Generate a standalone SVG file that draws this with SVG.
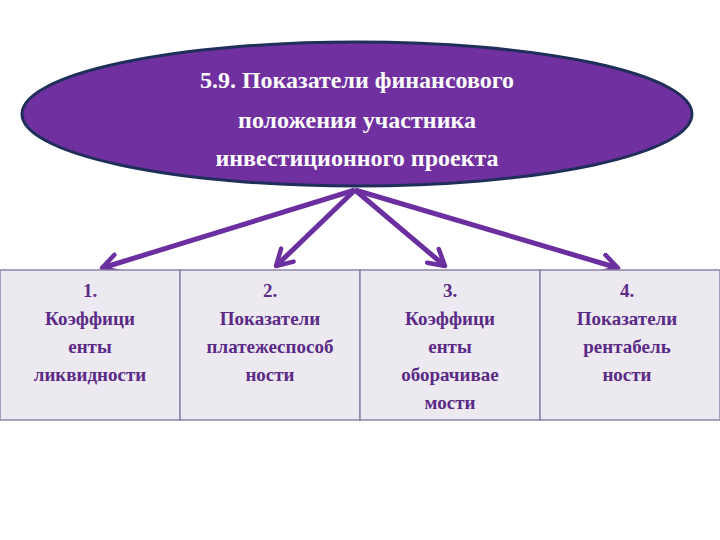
<svg xmlns="http://www.w3.org/2000/svg" width="720" height="540" viewBox="0 0 720 540">
<defs>
<marker id="ah" viewBox="0 0 10 10" refX="8" refY="5" markerWidth="4.5" markerHeight="4.5" orient="auto" markerUnits="strokeWidth">
<path d="M1,1 L8,5 L1,9" fill="none" stroke="#6b2fa0" stroke-width="2" stroke-linecap="round" stroke-linejoin="round"/>
</marker>
</defs>
<style>
.box{fill:#ece9f1;stroke:#8a84a8;stroke-width:1.5}
.bt{font-family:"Liberation Serif",serif;font-weight:bold;font-size:19px;fill:#5b2a86;text-anchor:middle}
.ht{font-family:"Liberation Serif",serif;font-weight:bold;font-size:24px;fill:#fff;text-anchor:middle}
.c{stroke:#6b2fa0;stroke-width:5;fill:none;marker-end:url(#ah)}
</style>
<rect width="720" height="540" fill="#fff"/>
<g id="head">
<ellipse cx="357" cy="114" rx="335" ry="72" fill="#7030a0" stroke="#1f2f5a" stroke-width="3"/>
<text class="ht" x="357" y="88">5.9. Показатели финансового</text>
<text class="ht" x="357" y="128">положения участника</text>
<text class="ht" x="357" y="166">инвестиционного проекта</text>
</g>
<g id="connectors">
<line class="c" x1="355" y1="190" x2="102" y2="268"/>
<line class="c" x1="355" y1="190" x2="276" y2="266"/>
<line class="c" x1="355" y1="190" x2="445" y2="266"/>
<line class="c" x1="355" y1="190" x2="618" y2="268"/>
</g>
<g id="n1"><rect class="box" x="0" y="270" width="180" height="150"/>
<text class="bt" x="90" y="297">1.</text><text class="bt" x="90" y="325">Коэффици</text><text class="bt" x="90" y="353">енты</text><text class="bt" x="90" y="381">ликвидности</text></g>
<g id="n2"><rect class="box" x="180" y="270" width="180" height="150"/>
<text class="bt" x="270" y="297">2.</text><text class="bt" x="270" y="325">Показатели</text><text class="bt" x="270" y="353">платежеспособ</text><text class="bt" x="270" y="381">ности</text></g>
<g id="n3"><rect class="box" x="360" y="270" width="180" height="150"/>
<text class="bt" x="450" y="297">3.</text><text class="bt" x="450" y="325">Коэффици</text><text class="bt" x="450" y="353">енты</text><text class="bt" x="450" y="381">оборачивае</text><text class="bt" x="450" y="409">мости</text></g>
<g id="n4"><rect class="box" x="540" y="270" width="180" height="150"/>
<text class="bt" x="627" y="297">4.</text><text class="bt" x="627" y="325">Показатели</text><text class="bt" x="627" y="353">рентабель</text><text class="bt" x="627" y="381">ности</text></g>
</svg>
